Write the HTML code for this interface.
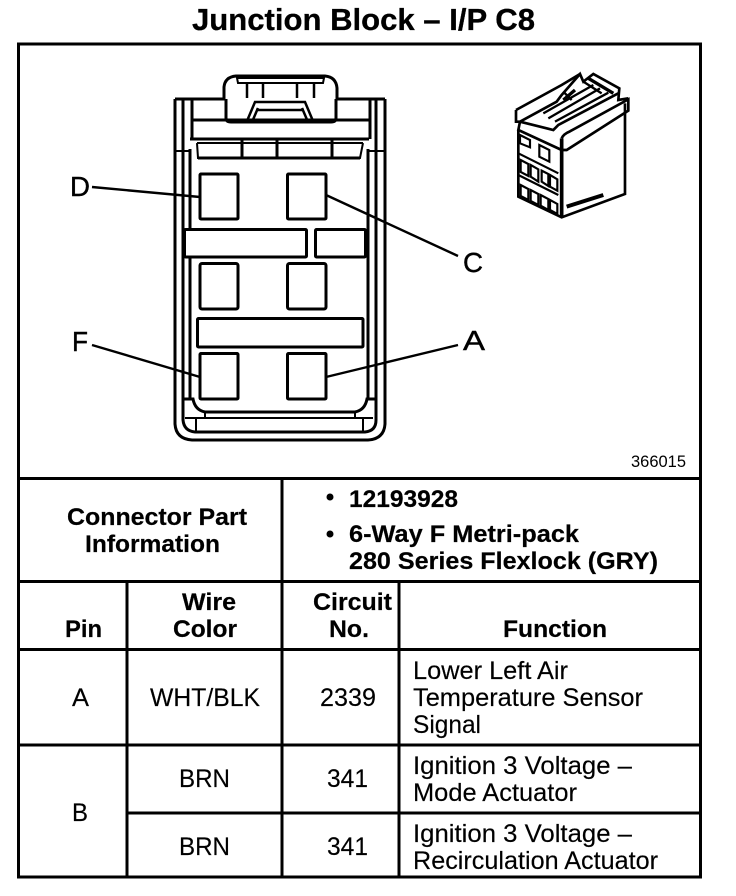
<!DOCTYPE html>
<html><head><meta charset="utf-8"><style>
html,body{margin:0;padding:0;background:#fff}
svg{display:block}
text{font-family:"Liberation Sans",Arial,sans-serif;fill:#000}
.b{font-weight:bold;font-size:24px;stroke:#000;stroke-width:.2}
.r{font-size:25px;stroke:#000;stroke-width:.15}
.l{font-size:28px;stroke:#000;stroke-width:.4}
.d{fill:none;stroke:#000;stroke-width:3}
</style></head><body>
<svg width="736" height="896" viewBox="0 0 736 896" xmlns="http://www.w3.org/2000/svg">
<rect width="736" height="896" fill="#fff"/>
<text x="192" y="30" textLength="343" lengthAdjust="spacingAndGlyphs" style="font-weight:bold;font-size:31px;stroke:#000;stroke-width:.3">Junction Block – I/P C8</text>

<g fill="none" stroke="#000" stroke-width="3">
<rect x="18.500" y="44" width="682" height="833"/>
<path d="M18 478.500H701M18 581.500H701M18 649.500H701M18 745H701M127 813H701"/>
<path d="M282 478V877M127 581V877M399 581V877"/>
</g>

<!-- main connector -->
<g class="d">
<path d="M224 99V87Q225 77 236 76H325Q336 77 337 88V99"/>
<path d="M237 78H324L323 83H238Z" stroke-width="2"/>
<path d="M247 83V98M263 83V98M297 83V98M314 83V98" stroke-width="2.500"/>
<path d="M175 99H225M336 99H385"/>
<path d="M226 99V118Q226 122 231 122H331Q336 122 336 118V99"/>
<path d="M247 121L255 102H305L313 121M252 122L258 108M308 122L302 108M256 110H304" stroke-width="2.500"/>
<path d="M192 120H370M190 139H369"/>
<path d="M192 99V139M370 99V139"/>
<path d="M197 143L198 158H360L363 143M197 143H363" stroke-width="2"/>
<path d="M198 158H360M242 140V158M277 140V158M332 140V158"/>
<path d="M175 99V424Q176 439 192 440H368Q384 439 385 424V99"/>
<path d="M183 99V420Q184 431 195 432H365Q376 431 376 420V99"/>
<path d="M190 149V400M368 149V400"/>
<path d="M175 151H190L190 149M385 151H368" stroke-width="2"/>
<path d="M183 399H193Q195 410 205 412H355Q365 410 367 399H375"/>
<path d="M185 418H373M205 412V418M355 412V418M196 418V432M363 418V432" stroke-width="2"/>
<rect x="200" y="174" width="38" height="45" rx="1"/>
<rect x="287.500" y="174" width="38.500" height="45" rx="1"/>
<rect x="200" y="263.500" width="38" height="45.500" rx="2"/>
<rect x="287.500" y="263.500" width="38.500" height="45.500" rx="2"/>
<rect x="200" y="353.500" width="38" height="45.500" rx="1"/>
<rect x="287.500" y="353.500" width="38.500" height="45.500" rx="1"/>
<rect x="184.500" y="229.500" width="122" height="27.500" rx="1" fill="#fff"/>
<rect x="315.500" y="229.500" width="50" height="27.500" rx="1" fill="#fff"/>
<rect x="197.500" y="318.500" width="165.500" height="28.500" rx="1" fill="#fff"/>
</g>

<!-- leaders -->
<g stroke="#000" stroke-width="2.400" fill="none">
<path d="M92 187L200 197"/>
<path d="M326 195L458 256"/>
<path d="M92 345L200 377"/>
<path d="M326 377L458 345"/>
</g>
<text class="l" x="70" y="196" textLength="20" lengthAdjust="spacingAndGlyphs">D</text>
<text class="l" x="463" y="272" textLength="20" lengthAdjust="spacingAndGlyphs">C</text>
<text class="l" x="72" y="351" textLength="16" lengthAdjust="spacingAndGlyphs">F</text>
<text class="l" x="463" y="350" textLength="22" lengthAdjust="spacingAndGlyphs">A</text>
<text x="631" y="467" textLength="55" lengthAdjust="spacingAndGlyphs" style="font-size:16.500px">366015</text>

<!-- isometric connector -->
<g transform="translate(500,60) scale(.3333)" fill="none" stroke="#000" stroke-width="8">
<path d="M55 210V410L185 472L375 402V130"/>
<path d="M185 235V472" stroke-width="11"/>
<path d="M185 235Q190 222 210 214L385 118V152L200 270H185L55 210L60 185"/>
<path d="M48 150V185H60L170 125L185 105L240 42L250 65L280 42L358 85L355 120L385 115"/>
<path d="M48 150L185 75L240 42"/>
<path d="M60 185L160 210L175 195L355 100"/>
<path d="M130 160L280 75M145 175L300 85M165 185L325 98M190 95L215 120M250 65L305 100" stroke-width="7"/>
<path d="M190 120L225 90M265 55L340 100" stroke-width="10"/>
<path d="M200 440L310 405" stroke-width="12"/>
<g stroke-width="6.500">
<path d="M60 225L90 240V262L60 250ZM118 255L148 270V305L118 290Z"/>
<path d="M55 280L175 340M55 345L175 405"/>
<path d="M62 300L85 312V348L62 336ZM92 315L115 328V365L92 350ZM125 332L145 342V378L125 365ZM150 345L172 358V392L150 380Z"/>
<path d="M62 375L85 387V420L62 408ZM92 390L115 402V435L92 423ZM122 405L145 417V450L122 437ZM150 420L172 432V462L150 450Z"/>
</g>
</g>

<!-- table text -->
<text class="b" x="67" y="525" textLength="180" lengthAdjust="spacingAndGlyphs">Connector Part</text>
<text class="b" x="85" y="552" textLength="135" lengthAdjust="spacingAndGlyphs">Information</text>
<circle cx="330" cy="497" r="3.500"/>
<circle cx="330" cy="534" r="3.500"/>
<text class="b" x="349" y="507" textLength="109" lengthAdjust="spacingAndGlyphs">12193928</text>
<text class="b" x="349" y="542" textLength="230" lengthAdjust="spacingAndGlyphs">6-Way F Metri-pack</text>
<text class="b" x="349" y="569" textLength="309" lengthAdjust="spacingAndGlyphs">280 Series Flexlock (GRY)</text>
<text class="b" x="65" y="637" textLength="37" lengthAdjust="spacingAndGlyphs">Pin</text>
<text class="b" x="182" y="610" textLength="54" lengthAdjust="spacingAndGlyphs">Wire</text>
<text class="b" x="173" y="637" textLength="64" lengthAdjust="spacingAndGlyphs">Color</text>
<text class="b" x="313" y="610" textLength="79" lengthAdjust="spacingAndGlyphs">Circuit</text>
<text class="b" x="329" y="637" textLength="40" lengthAdjust="spacingAndGlyphs">No.</text>
<text class="b" x="503" y="637" textLength="104" lengthAdjust="spacingAndGlyphs">Function</text>

<text class="r" x="72" y="706" textLength="17" lengthAdjust="spacingAndGlyphs">A</text>
<text class="r" x="150" y="706" textLength="110" lengthAdjust="spacingAndGlyphs">WHT/BLK</text>
<text class="r" x="320" y="706" textLength="56" lengthAdjust="spacingAndGlyphs">2339</text>
<text class="r" x="413" y="679" textLength="155" lengthAdjust="spacingAndGlyphs">Lower Left Air</text>
<text class="r" x="413" y="706" textLength="230" lengthAdjust="spacingAndGlyphs">Temperature Sensor</text>
<text class="r" x="413" y="733" textLength="68" lengthAdjust="spacingAndGlyphs">Signal</text>

<text class="r" x="72" y="821" textLength="16" lengthAdjust="spacingAndGlyphs">B</text>
<text class="r" x="179" y="787" textLength="51" lengthAdjust="spacingAndGlyphs">BRN</text>
<text class="r" x="327" y="787" textLength="41" lengthAdjust="spacingAndGlyphs">341</text>
<text class="r" x="413" y="774" textLength="219" lengthAdjust="spacingAndGlyphs">Ignition 3 Voltage –</text>
<text class="r" x="413" y="801" textLength="164" lengthAdjust="spacingAndGlyphs">Mode Actuator</text>
<text class="r" x="179" y="855" textLength="51" lengthAdjust="spacingAndGlyphs">BRN</text>
<text class="r" x="327" y="855" textLength="41" lengthAdjust="spacingAndGlyphs">341</text>
<text class="r" x="413" y="842" textLength="219" lengthAdjust="spacingAndGlyphs">Ignition 3 Voltage –</text>
<text class="r" x="413" y="869" textLength="245" lengthAdjust="spacingAndGlyphs">Recirculation Actuator</text>
</svg>
</body></html>
